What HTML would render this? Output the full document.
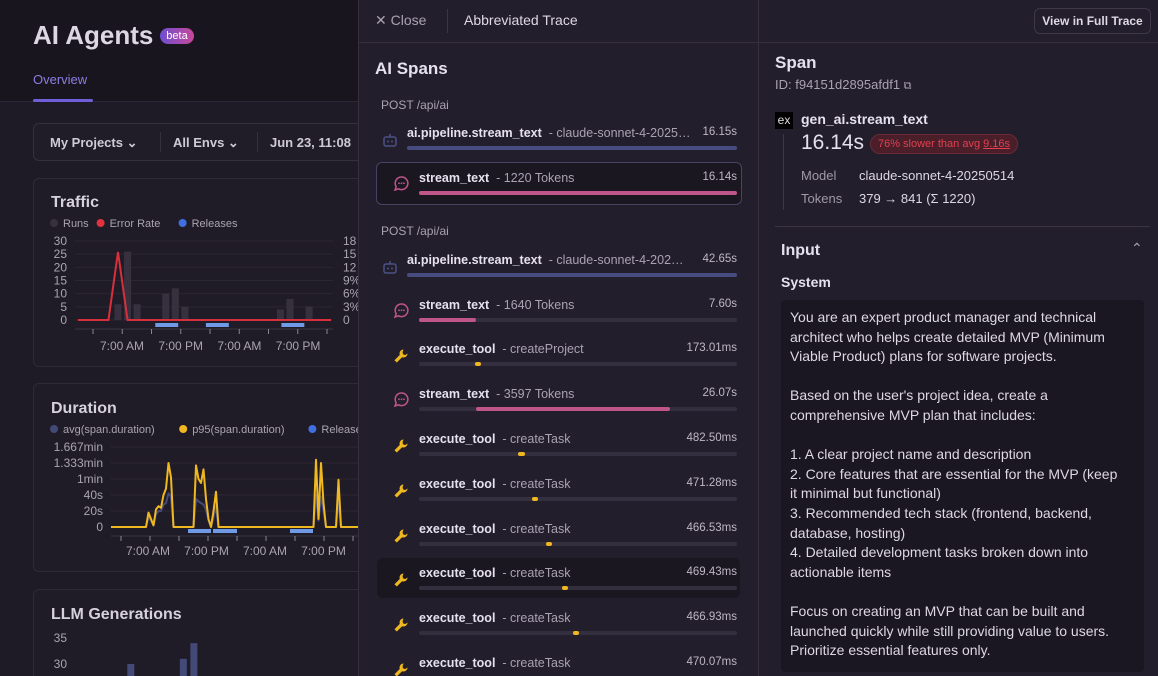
<!DOCTYPE html>
<html><head><meta charset="utf-8">
<style>
*{box-sizing:border-box;margin:0;padding:0}
html{width:1158px;height:676px;overflow:hidden}
body{width:1158px;height:676px;overflow:hidden;background:#231e2c;font-family:"Liberation Sans",sans-serif;color:#e6e1ee;position:relative}
.abs{position:absolute}
#left{left:0;top:0;width:358px;height:676px;background:#1f1b26;overflow:hidden}
#lefthead{left:0;top:0;width:358px;height:102px;background:#19151f;border-bottom:1px solid #2c2735}
.card{position:absolute;left:33px;width:340px;border:1px solid #2f2a38;border-radius:6px;background:#201c27}
.ct{position:absolute;left:17px;font-size:16px;font-weight:bold;color:#d6d1de}
#mid{left:358px;top:0;width:400px;height:676px;background:#231e2c;border-left:1px solid #342e3f;overflow:hidden}
#right{left:758px;top:0;width:400px;height:676px;background:#231e2c;border-left:1px solid #342e3f;overflow:hidden}
.row{position:absolute;height:40px}
.nm{position:absolute;top:0;font-size:12.5px;font-weight:bold;color:#e6e1ee;white-space:nowrap}
.ds{font-weight:normal;color:#a8a2b3}
.tm{position:absolute;top:0;font-size:11.5px;color:#bdb7c6;text-align:right}
.track{position:absolute;height:4px;background:#342f3f;border-radius:2px}
.fill{position:absolute;top:0;height:4px;border-radius:2px}
</style></head><body>

<div id="left" class="abs">
 <div id="lefthead" class="abs">
  <div class="abs" style="left:33px;top:20px;font-size:26px;font-weight:bold;color:#dcd7e3">AI Agents</div>
  <div class="abs" style="left:160px;top:28px;width:34px;height:16px;border-radius:8px;background:linear-gradient(90deg,#6e4fd0,#c8479a);font-size:11px;color:#fff;text-align:center;line-height:16px">beta</div>
  <div class="abs" style="left:33px;top:72px;font-size:13px;color:#8a7fe0">Overview</div>
  <div class="abs" style="left:33px;top:99px;width:60px;height:3px;background:#6d5fd8;border-radius:2px"></div>
 </div>
 <div class="abs" style="left:33px;top:123px;width:340px;height:38px;border:1px solid #34303e;border-radius:6px;background:#211d28">
  <div class="abs" style="left:16px;top:11px;font-size:13px;font-weight:bold;color:#cfcad7">My Projects &#8964;</div>
  <div class="abs" style="left:126px;top:8px;width:1px;height:20px;background:#34303e"></div>
  <div class="abs" style="left:139px;top:11px;font-size:13px;font-weight:bold;color:#cfcad7">All Envs &#8964;</div>
  <div class="abs" style="left:223px;top:8px;width:1px;height:20px;background:#34303e"></div>
  <div class="abs" style="left:236px;top:11px;font-size:13px;font-weight:bold;color:#cfcad7;white-space:nowrap">Jun 23, 11:08</div>
 </div>

 <div class="card" style="top:178px;height:189px">
  <div class="ct" style="top:15px">Traffic</div>
 </div>
 <div class="card" style="top:383px;height:189px">
  <div class="ct" style="top:16px">Duration</div>
 </div>
 <div class="card" style="top:589px;height:100px">
  <div class="ct" style="top:16px">LLM Generations</div>
 </div>
 <svg id="charts" class="abs" style="left:0;top:0" width="358" height="676"></svg>
</div>

<div id="mid" class="abs">
 <div class="abs" style="left:0;top:0;width:400px;height:43px;border-bottom:1px solid #342e3f">
  <div class="abs" style="left:16px;top:12px;font-size:14px;color:#a8a2b3">&#10005; Close</div>
  <div class="abs" style="left:88px;top:9px;width:1px;height:24px;background:#3a3445"></div>
  <div class="abs" style="left:105px;top:12px;font-size:14px;color:#ddd8e4">Abbreviated Trace</div>
 </div>
 <div class="abs" style="left:16px;top:59px;font-size:17px;font-weight:bold;color:#e6e1ee">AI Spans</div>
 <div id="spans"></div>
</div>

<div id="right" class="abs">
 <div class="abs" style="left:0;top:0;width:400px;height:43px;border-bottom:1px solid #342e3f"></div>
 <div class="abs" style="left:275px;top:8px;width:117px;height:26px;border:1px solid #3e384a;border-radius:6px;font-size:12px;font-weight:bold;color:#ddd8e4;text-align:center;line-height:24px">View in Full Trace</div>
 <div class="abs" style="left:16px;top:53px;font-size:17px;font-weight:bold">Span</div>
 <div class="abs" style="left:16px;top:77px;font-size:13px;color:#a8a2b3">ID: f94151d2895afdf1 <span style="font-size:11px">&#10697;</span></div>
 <div class="abs" style="left:16px;top:112px;width:18px;height:17px;background:#000;color:#ddd;font-size:12px;line-height:16px;text-align:center">ex</div>
 <div class="abs" style="left:24px;top:134px;width:1px;height:76px;background:#3e384a"></div>
 <div class="abs" style="left:42px;top:111px;font-size:14px;font-weight:bold">gen_ai.stream_text</div>
 <div class="abs" style="left:42px;top:131px;font-size:21px;color:#e6e1ee">16.14s</div>
 <div class="abs" style="left:111px;top:134px;width:148px;height:20px;border-radius:10px;background:#4a1f2a;border:1px solid #6a2a36;font-size:11px;color:#e0404f;text-align:center;line-height:18px">76% slower than avg <u>9.16s</u></div>
 <div class="abs" style="left:42px;top:168px;font-size:13px;color:#9e98a8">Model</div>
 <div class="abs" style="left:100px;top:168px;font-size:13px;color:#ddd8e4">claude-sonnet-4-20250514</div>
 <div class="abs" style="left:42px;top:191px;font-size:13px;color:#9e98a8">Tokens</div>
 <div class="abs" style="left:100px;top:191px;font-size:13px;color:#ddd8e4">379 &#8594; 841 (&#931; 1220)</div>
 <div class="abs" style="left:16px;top:226px;width:375px;height:1px;background:#3a3445"></div>
 <div class="abs" style="left:22px;top:242px;font-size:16px;font-weight:bold">Input</div>
 <div class="abs" style="left:372px;top:240px;font-size:14px;color:#a8a2b3">&#8963;</div>
 <div class="abs" style="left:22px;top:274px;font-size:14px;font-weight:bold">System</div>
 <div class="abs" style="left:22px;top:300px;width:363px;height:372px;background:#1b1722;border-radius:4px;padding:8px 9px;font-size:14px;line-height:19.6px;color:#ddd8e4;white-space:pre;overflow:hidden">You are an expert product manager and technical
architect who helps create detailed MVP (Minimum
Viable Product) plans for software projects.

Based on the user's project idea, create a
comprehensive MVP plan that includes:

1. A clear project name and description
2. Core features that are essential for the MVP (keep
it minimal but functional)
3. Recommended tech stack (frontend, backend,
database, hosting)
4. Detailed development tasks broken down into
actionable items

Focus on creating an MVP that can be built and
launched quickly while still providing value to users.
Prioritize essential features only.</div>
</div>

<script>
// ---------- Traffic chart data ----------
const trafficSlots = 27;
const runsValues = [0,0,0,0,6,26,6,0,0,10,12,5,0,0,0,0,0,0,0,0,0,4,8,0,5,0,0];
const errorRateValues = [0,0,0,0,15.5,0,0,0,0,0,0,0,0,0,0,0,0,0,0,0,0,0,0,0,0,0,0];
const trafficLeftTicks = [0,5,10,15,20,25,30];
const trafficRightTicks = ["0","3%","6%","9%","12","15","18"];
const trafficXLabels = ["7:00 AM","7:00 PM","7:00 AM","7:00 PM"];
const trafficReleases = [[8.4,10.8],[13.7,16.1],[21.6,24]];
// ---------- Duration chart data ----------
const p95Values = [0,0,0,0,0,0,0,0,0,0,0,0,0,0,0,18,10,2,22,26,24,40,48,80,62,0,0,0,0,0,0,0,0,0,77,60,55,72,35,10,0,20,44,0,0,0,0,0,0,0,0,0,0,0,0,0,0,0,0,0,0,0,0,0,0,0,0,0,0,0,0,0,0,0,0,0,0,0,0,0,0,0,84,10,80,30,0,0,0,0,0,59,0,0,0,0,0,0,0,0];
const avgValues = [0,0,0,0,0,0,0,0,0,0,0,0,0,0,0,12,8,2,16,20,20,28,30,42,38,0,0,0,0,0,0,0,0,0,35,32,30,28,22,8,0,12,26,0,0,0,0,0,0,0,0,0,0,0,0,0,0,0,0,0,0,0,0,0,0,0,0,0,0,0,0,0,0,0,0,0,0,0,0,0,0,0,40,8,38,20,0,0,0,0,0,34,0,0,0,0,0,0,0,0];
const durationTicks = [0,20,40,60,80,100];
const durationTickLabels = ["0","20s","40s","1min","1.333min","1.667min"];
const durationXLabels = ["7:00 AM","7:00 PM","7:00 AM","7:00 PM"];
const durationReleases = [[30.8,40],[40.8,50.4],[71.6,80.8]];
// ---------- LLM generations ----------
const llmCategories = ["a","b","c"];
const llmValues = [30,31,34];
const llmSlotIndex = [4,9,10];

const NS="http://www.w3.org/2000/svg";
const svg=document.getElementById('charts');
function mk(tag,attrs,parent){const e=document.createElementNS(NS,tag);for(const k in attrs)e.setAttribute(k,attrs[k]);(parent||svg).appendChild(e);return e;}
function txt(x,y,s,anchor,size,fill){const t=mk('text',{x:x,y:y,'text-anchor':anchor,'font-size':size,fill:fill,'font-family':'Liberation Sans, sans-serif'});t.textContent=s;return t;}

function legend(items,y){let x=50;items.forEach(it=>{const c=mk('circle',{cx:x+4,cy:y-4,r:4,fill:it[1]});const t=txt(x+13,y,it[0],'start',11,'#a9a3b3');x+=13+it[0].length*5.9+10;});}
legend([["Runs","#37313f"],["Error Rate","#e0323f"],["Releases","#3f6fe0"]],227);
legend([["avg(span.duration)","#444a78"],["p95(span.duration)","#f0b820"],["Releases","#3f6fe0"]],433);

const tx0=75,tx1=333,ty0=320,tyTop=241;
const tX=i=>tx0+(i+0.5)*(tx1-tx0)/trafficSlots;
const tY=v=>ty0-(v/30)*(ty0-tyTop);
const tYR=v=>ty0-(v/18)*(ty0-tyTop);
trafficLeftTicks.forEach(v=>{mk('line',{x1:tx0,x2:tx1,y1:tY(v),y2:tY(v),stroke:'#2b2633','stroke-width':1});const t=txt(67,tY(v)+4,String(v),'end',12,'#a9a3b3');});
trafficRightTicks.forEach((s,i)=>{const t=txt(343,tY(trafficLeftTicks[i])+4,s,'start',12,'#a9a3b3');});
runsValues.forEach((v,i)=>{if(!v)return;const b=mk('rect',{x:tX(i)-3.5,y:tY(v),width:7,height:ty0-tY(v),fill:'#37313f'});});
mk('line',{x1:tx0,x2:tx1,y1:ty0+9,y2:ty0+9,stroke:'#3a3445'});
for(let k=0;k<9;k++){const x=93+k*29.25;mk('line',{x1:x,x2:x,y1:ty0+9,y2:ty0+14,stroke:'#8a8494'});}
trafficXLabels.forEach((s,i)=>{const t=txt(122+i*58.7,350,s,'middle',12,'#a9a3b3');});
trafficReleases.forEach(r=>{const b=mk('rect',{x:tx0+r[0]*(tx1-tx0)/trafficSlots,y:ty0+3,width:(r[1]-r[0])*(tx1-tx0)/trafficSlots,height:4,fill:'#6f9ae6'});});
{let d='M78 '+tYR(0);errorRateValues.forEach((v,i)=>{d+=' L'+tX(i)+' '+tYR(v);});d+=' L331 '+tYR(0);const l=mk('path',{d:d,fill:'none',stroke:'#d7303c','stroke-width':2});}

const dx0=111,dstep=2.5,dy0=527,dpx=0.8;
const dX=i=>dx0+i*dstep;
const dY=v=>dy0-v*dpx;
durationTicks.forEach((v,i)=>{if(v)mk('line',{x1:dx0,x2:360,y1:dY(v),y2:dY(v),stroke:'#2b2633'});const t=txt(103,dY(v)+4,durationTickLabels[i],'end',12,'#a9a3b3');});
mk('line',{x1:dx0,x2:360,y1:dy0+9,y2:dy0+9,stroke:'#3a3445'});
for(let k=0;k<9;k++){const x=121+k*29;mk('line',{x1:x,x2:x,y1:dy0+9,y2:dy0+14,stroke:'#8a8494'});}
durationXLabels.forEach((s,i)=>{const t=txt(148+i*58.5,555,s,'middle',12,'#a9a3b3');});
durationReleases.forEach(r=>{const b=mk('rect',{x:dX(r[0]),y:dy0+2,width:(r[1]-r[0])*dstep,height:4,fill:'#6f9ae6'});});
function series(vals,color,name){const d=vals.map((v,i)=>(i?'L':'M')+dX(i)+' '+dY(v)).join(' ');const p=mk('path',{d:d,fill:'none',stroke:color,'stroke-width':2,'stroke-linejoin':'round'});}
series(avgValues,'#444a78','avg-duration-line');
series(p95Values,'#f0b820','p95-duration-line');

const lY=v=>820-v*5.2;
[30,35].forEach(v=>{const t=txt(67,lY(v)+4,String(v),'end',12,'#a9a3b3');});
llmValues.forEach((v,i)=>{const x=tx0+(llmSlotIndex[i]+0.5)*(tx1-tx0)/trafficSlots*1.1+5;const b=mk('rect',{x:x,y:lY(v),width:7,height:820-lY(v),fill:'#444a78'});});

const spans=[
 {g:"POST /api/ai",y:98},
 {y:126,lvl:0,icon:'bot',name:'ai.pipeline.stream_text',desc:'- claude-sonnet-4-2025…',time:'16.15s',s:0,e:1,c:'#464c80'},
 {y:171,lvl:1,icon:'chat',name:'stream_text',desc:'- 1220 Tokens',time:'16.14s',s:0,e:1,c:'#c0558a',sel:true},
 {g:"POST /api/ai",y:224},
 {y:253,lvl:0,icon:'bot',name:'ai.pipeline.stream_text',desc:'- claude-sonnet-4-202…',time:'42.65s',s:0,e:1,c:'#464c80'},
 {y:298,lvl:1,icon:'chat',name:'stream_text',desc:'- 1640 Tokens',time:'7.60s',s:0,e:0.18,c:'#c0558a'},
 {y:342,lvl:1,icon:'tool',name:'execute_tool',desc:'- createProject',time:'173.01ms',s:0.175,e:0.195,c:'#f0b820'},
 {y:387,lvl:1,icon:'chat',name:'stream_text',desc:'- 3597 Tokens',time:'26.07s',s:0.18,e:0.79,c:'#c0558a'},
 {y:432,lvl:1,icon:'tool',name:'execute_tool',desc:'- createTask',time:'482.50ms',s:0.312,e:0.332,c:'#f0b820'},
 {y:477,lvl:1,icon:'tool',name:'execute_tool',desc:'- createTask',time:'471.28ms',s:0.354,e:0.374,c:'#f0b820'},
 {y:522,lvl:1,icon:'tool',name:'execute_tool',desc:'- createTask',time:'466.53ms',s:0.398,e:0.418,c:'#f0b820'},
 {y:566,lvl:1,icon:'tool',name:'execute_tool',desc:'- createTask',time:'469.43ms',s:0.450,e:0.470,c:'#f0b820',hl:true},
 {y:611,lvl:1,icon:'tool',name:'execute_tool',desc:'- createTask',time:'466.93ms',s:0.483,e:0.503,c:'#f0b820'},
 {y:656,lvl:1,icon:'tool',name:'execute_tool',desc:'- createTask',time:'470.07ms',s:0.515,e:0.535,c:'#f0b820'}
];
const icons={
 bot:'<svg width="16" height="16" viewBox="0 0 16 16"><rect x="2" y="5" width="12" height="9" rx="2" fill="none" stroke="#4b5185" stroke-width="1.5"/><line x1="8" y1="2" x2="8" y2="5" stroke="#4b5185" stroke-width="1.5"/><circle cx="6" cy="9.5" r="1" fill="#4b5185"/><circle cx="10" cy="9.5" r="1" fill="#4b5185"/></svg>',
 chat:'<svg width="17" height="17" viewBox="0 0 17 17"><path d="M8.5 2a6.3 6.3 0 1 1-3 11.8L2 15l1.2-3.3A6.3 6.3 0 0 1 8.5 2z" fill="none" stroke="#c0558a" stroke-width="1.5"/><circle cx="6" cy="8.3" r=".9" fill="#c0558a"/><circle cx="8.5" cy="8.3" r=".9" fill="#c0558a"/><circle cx="11" cy="8.3" r=".9" fill="#c0558a"/></svg>',
 tool:'<svg width="16" height="16" viewBox="0 0 16 16"><path d="M10.5 1.5a4 4 0 0 0-3.7 5.4L1.5 12.2l2.3 2.3 5.3-5.3a4 4 0 0 0 5.4-3.7l-2.3 1.6-2.2-.8-.4-2.2z" fill="#f0b820"/></svg>'
};
const cont=document.getElementById('spans');
spans.forEach(sp=>{
 if(sp.g){const d=document.createElement('div');d.className='abs';d.style.cssText='left:22px;top:'+sp.y+'px;font-size:12px;color:#a8a2b3';d.textContent=sp.g;
  
  
  cont.appendChild(d);return;}
 if(sp.sel){const b=document.createElement('div');b.className='abs';b.style.cssText='left:17px;top:162px;width:366px;height:43px;border:1.5px solid #4a4263;border-radius:6px;background:#1b1721';
  
  
  cont.appendChild(b);}
 if(sp.hl){const b=document.createElement('div');b.className='abs';b.style.cssText='left:18px;top:558px;width:363px;height:40px;border-radius:6px;background:#1b1721';
  
  
  cont.appendChild(b);}
 const x0=sp.lvl?60:48, x1=378;
 const r=document.createElement('div');r.className='row';r.style.cssText='left:0;top:'+sp.y+'px;width:400px;height:28px';
 
 
 r.innerHTML='<div class="abs" style="left:'+(sp.lvl?34:23)+'px;top:'+(sp.icon==='chat'?4:6)+'px">'+icons[sp.icon]+'</div>'+
  '<div class="nm" style="left:'+x0+'px">'+sp.name+' <span class="ds">&nbsp;'+sp.desc+'</span></div>'+
  '<div class="tm" style="left:300px;width:78px">'+sp.time+'</div>'+
  '<div class="track" style="left:'+x0+'px;top:20px;width:'+(x1-x0)+'px"><div class="fill" style="left:'+(sp.s*(x1-x0))+'px;width:'+Math.max(6,(sp.e-sp.s)*(x1-x0))+'px;background:'+sp.c+'"></div></div>';
 cont.appendChild(r);
});
</script>
</body></html>
